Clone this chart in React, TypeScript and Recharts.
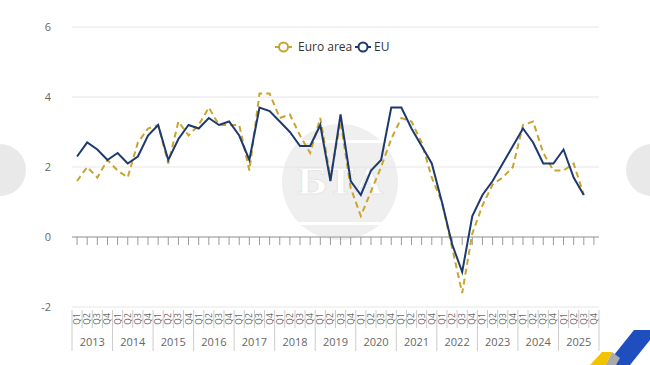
import React from 'react';
import { LineChart, Line, XAxis, YAxis, CartesianGrid, ReferenceLine } from 'recharts';

const years = ['2013', '2014', '2015', '2016', '2017', '2018', '2019', '2020', '2021', '2022', '2023', '2024', '2025'];
const quarterNames = ['Q1', 'Q2', 'Q3', 'Q4'];

// Euro area, quarterly (2013 Q1 .. 2025 Q3)
const euroArea = [
  1.6, 2.0, 1.7, 2.2,
  1.9, 1.7, 2.7, 3.1,
  3.2, 2.1, 3.3, 2.9,
  3.2, 3.7, 3.2, 3.2,
  3.2, 1.9, 4.1, 4.1,
  3.4, 3.5, 2.9, 2.4,
  3.4, 1.7, 3.3, 1.4,
  0.6, 1.3, 2.0, 2.8,
  3.4, 3.3, 2.7, 1.7,
  1.0, -0.3, -1.6, 0.1,
  0.9, 1.5, 1.7, 2.0,
  3.2, 3.3, 2.4, 1.9,
  1.9, 2.1, 1.2,
];

// EU, quarterly (2013 Q1 .. 2025 Q3)
const eu = [
  2.3, 2.7, 2.5, 2.2,
  2.4, 2.1, 2.3, 2.9,
  3.2, 2.2, 2.8, 3.2,
  3.1, 3.4, 3.2, 3.3,
  2.9, 2.2, 3.7, 3.6,
  3.3, 3.0, 2.6, 2.6,
  3.2, 1.6, 3.5, 1.6,
  1.2, 1.9, 2.2, 3.7,
  3.7, 3.1, 2.6, 2.1,
  1.0, -0.2, -1.0, 0.6,
  1.2, 1.6, 2.1, 2.6,
  3.1, 2.7, 2.1, 2.1,
  2.5, 1.7, 1.2,
];

const yTicks = [-2, 0, 2, 4, 6];

const EURO_COLOR = '#C9A42E';
const EU_COLOR = '#1D3A6F';
const FONT = '"Open Sans", "DejaVu Sans", sans-serif';

const data = years.flatMap((yr, yi) =>
  quarterNames.map((q, qi) => {
    const i = yi * 4 + qi;
    return {
      key: `${yr} ${q}`,
      euroArea: i < euroArea.length ? euroArea[i] : null,
      eu: i < eu.length ? eu[i] : null,
    };
  })
);
const lastKey = data[data.length - 1].key;

// width of one quarter cell on the category axis
const CELL = 527 / data.length;

const QuarterTick = (props: any) => {
  const { x, y, payload } = props;
  const [yr, q] = String(payload.value).split(' ');
  const left = x - CELL / 2;
  return (
    <g>
      <line x1={left} x2={left} y1={y + 3} y2={q === 'Q1' ? y + 44 : y + 21} stroke="#ccc" />
      {payload.value === lastKey && (
        <line x1={x + CELL / 2} x2={x + CELL / 2} y1={y + 3} y2={y + 44} stroke="#ccc" />
      )}
      <text
        transform={`translate(${x},${y + 12}) rotate(-90)`}
        textAnchor="middle"
        dy="0.35em"
        fontSize={8.5}
        fill="#666"
        fontFamily={FONT}
      >
        {q}
      </text>
      {q === 'Q1' && (
        <text x={x + 1.5 * CELL} y={y + 35} textAnchor="middle" dy="0.35em" fontSize={11} fill="#666" fontFamily={FONT}>
          {yr}
        </text>
      )}
    </g>
  );
};

// faint agency watermark and corner logo behind the chart
const Watermark = () => (
  <svg width={650} height={365} style={{ position: 'absolute', left: 0, top: 0 }}>
    <defs>
      <clipPath id="globe">
        <circle cx={340} cy={182} r={58} />
      </clipPath>
    </defs>
    <g clipPath="url(#globe)">
      <rect x={280} y={120} width={120} height={130} fill="#efefef" />
      <rect x={280} y={140} width={120} height={3} fill="#fff" />
      <rect x={280} y={222} width={120} height={3} fill="#fff" />
    </g>
    <text x={340} y={194} textAnchor="middle" fontSize={36} fontWeight="bold" fill="#ffffff" stroke="#e6e6e6" strokeWidth={1} fontFamily="DejaVu Serif">
      БТА
    </text>
    <circle cx={0} cy={170} r={26} fill="#e9e9e9" />
    <circle cx={652} cy={170} r={26} fill="#e9e9e9" />
    <polygon points="606,365 634,330 650,330 650,340 630,365" fill="#1f4fbf" />
    <polygon points="590,365 602,352 612,352 606,365" fill="#f2c400" />
    <polygon points="606,365 612,352 620,358 616,365" fill="#aaaaaa" />
  </svg>
);

const LegendOverlay = () => (
  <svg width={650} height={365} style={{ position: 'absolute', left: 0, top: 0, pointerEvents: 'none' }}>
    <g fontFamily={FONT} fontSize={12} fill="#333">
      <line x1={275} x2={292} y1={47} y2={47} stroke={EURO_COLOR} strokeWidth={2} />
      <circle cx={283.5} cy={47} r={4.5} fill="#fff" stroke={EURO_COLOR} strokeWidth={2} />
      <text x={298} y={47} dy="0.35em">Euro area</text>
      <line x1={355} x2={371} y1={47} y2={47} stroke={EU_COLOR} strokeWidth={2} />
      <circle cx={363} cy={47} r={4.5} fill="#fff" stroke={EU_COLOR} strokeWidth={2} />
      <text x={374} y={47} dy="0.35em">EU</text>
    </g>
  </svg>
);

export default function App() {
  return (
    <div style={{ position: 'fixed', left: 0, top: 0, width: 650, height: 365, background: '#fff', overflow: 'hidden' }}>
      <Watermark />
      <div style={{ position: 'absolute', left: 0, top: 0 }}>
        <LineChart width={650} height={365} data={data} margin={{ top: 27, right: 51, bottom: 8, left: 12 }}>
          <CartesianGrid vertical={false} stroke="#e6e6e6" />
          <XAxis
            dataKey="key"
            interval={0}
            axisLine={false}
            tickLine={false}
            tickSize={0}
            tickMargin={0}
            height={50}
            padding={{ left: CELL / 2, right: CELL / 2 }}
            tick={<QuarterTick />}
          />
          <YAxis
            domain={[-2, 6]}
            ticks={yTicks}
            width={60}
            axisLine={false}
            tickLine={false}
            tickMargin={15}
            tick={{ fill: '#666', fontSize: 11, fontFamily: FONT }}
          />
          <ReferenceLine y={0} stroke="#999" />
          {data.map((d) => (
            <ReferenceLine
              key={d.key}
              segment={[{ x: d.key, y: 0 }, { x: d.key, y: -0.23 }]}
              stroke="#999"
            />
          ))}
          <Line
            type="linear"
            dataKey="euroArea"
            name="Euro area"
            stroke={EURO_COLOR}
            strokeWidth={2}
            strokeDasharray="6 4"
            dot={false}
            isAnimationActive={false}
          />
          <Line
            type="linear"
            dataKey="eu"
            name="EU"
            stroke={EU_COLOR}
            strokeWidth={2}
            dot={false}
            isAnimationActive={false}
          />
        </LineChart>
      </div>
      <LegendOverlay />
    </div>
  );
}
